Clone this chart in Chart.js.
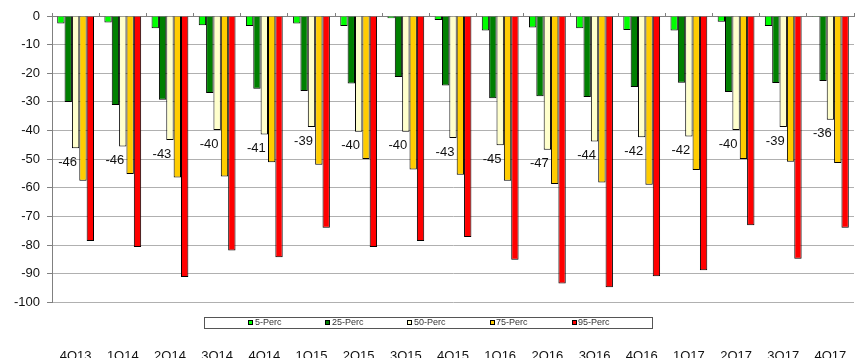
<!DOCTYPE html>
<html><head><meta charset="utf-8">
<script src="https://cdn.jsdelivr.net/npm/chart.js@4"></script>
<style>
html,body{margin:0;padding:0;background:#fff;overflow:hidden;}
#wrap{position:relative;width:858px;height:368px;}
</style></head><body>
<div id="wrap"><canvas id="c"></canvas></div>
<script>
const categories = ['4Q13','1Q14','2Q14','3Q14','4Q14','1Q15','2Q15','3Q15','4Q15','1Q16','2Q16','3Q16','4Q16','1Q17','2Q17','3Q17','4Q17'];
const seriesNames = ['5-Perc','25-Perc','50-Perc','75-Perc','95-Perc'];
const perc5  = [-2.6,-2.3,-4.3,-3.2,-3.5,-2.6,-3.5,-0.8,-1.4,-5.1,-4.0,-4.3,-4.9,-5.1,-2.0,-3.5,-0.3];
const perc25 = [-30.0,-31.1,-29.2,-26.9,-25.4,-26.2,-23.6,-21.3,-24.3,-28.7,-28.0,-28.3,-24.8,-23.3,-26.5,-23.4,-22.7];
const perc50 = [-46.2,-45.6,-43.3,-39.8,-41.4,-38.8,-40.4,-40.4,-42.6,-45.1,-46.7,-43.8,-42.3,-42.1,-39.8,-38.8,-36.2];
const perc75 = [-57.5,-55.2,-56.4,-56.0,-51.1,-51.9,-49.9,-53.6,-55.4,-57.5,-58.7,-58.1,-58.9,-53.8,-49.9,-50.9,-51.3];
const perc95 = [-78.6,-80.7,-91.1,-81.9,-84.2,-73.9,-80.7,-78.6,-77.2,-85.1,-93.4,-94.7,-90.9,-88.8,-73.1,-84.8,-73.9];
const seriesColors = ['#00ff00','#008000','#ffffcc','#ffcc00','#ff0000'];
const yMin = -100, yMax = 0, yStep = 10;
const labelledSeries = 2;

const FONT = '"Liberation Sans", Arial, sans-serif';
const allSeries = [perc5, perc25, perc50, perc75, perc95];

const bgPlugin = {
  id: 'bg',
  beforeDraw(chart) {
    const ctx = chart.ctx;
    ctx.save(); ctx.fillStyle = '#fff'; ctx.fillRect(0, 0, chart.width, chart.height); ctx.restore();
  }
};

const labelPlugin = {
  id: 'p50labels',
  afterDatasetsDraw(chart) {
    const meta = chart.getDatasetMeta(labelledSeries);
    const ctx = chart.ctx;
    ctx.save();
    ctx.font = '13px ' + FONT;
    ctx.fillStyle = '#111';
    ctx.textAlign = 'center';
    ctx.textBaseline = 'middle';
    meta.data.forEach((bar, i) => {
      const v = chart.data.datasets[labelledSeries].data[i];
      ctx.fillText(String(Math.round(v)), bar.x - 8, bar.y + 14);
    });
    ctx.restore();
  }
};

const legendPlugin = {
  id: 'boxLegend',
  afterDraw(chart) {
    const ctx = chart.ctx;
    const ds = chart.data.datasets;
    ctx.save();
    ctx.font = '9px ' + FONT;
    const box = 5, gapText = 1.5, gapItem = 44;
    const widths = ds.map(d => box + gapText + ctx.measureText(d.label).width);
    const total = widths.reduce((a, b) => a + b, 0) + gapItem * (ds.length - 1);
    let x = chart.width / 2 - total / 2;
    const yc = chart.chartArea.bottom + 20;
    ctx.strokeStyle = '#555';
    ctx.lineWidth = 1;
    ctx.strokeRect(Math.round(x - 44.5) + 0.5, Math.round(yc - 5.5) + 0.5, Math.round(total + 87), 11);
    ctx.textBaseline = 'middle';
    ctx.textAlign = 'left';
    ds.forEach((d, i) => {
      ctx.fillStyle = d.backgroundColor;
      ctx.fillRect(Math.round(x) + 0.5, Math.round(yc - 2.5) + 0.5, box - 1, box - 1);
      ctx.strokeStyle = '#000';
      ctx.strokeRect(Math.round(x) + 0.5, Math.round(yc - 2.5) + 0.5, box - 1, box - 1);
      ctx.fillStyle = '#333';
      ctx.fillText(d.label, x + box + gapText, yc + 0.5);
      x += widths[i] + gapItem;
    });
    ctx.restore();
  }
};

new Chart(document.getElementById('c'), {
  type: 'bar',
  data: {
    labels: categories,
    datasets: seriesNames.map((name, i) => ({
      label: name,
      data: allSeries[i],
      backgroundColor: seriesColors[i],
      borderColor: '#000',
      borderWidth: 1,
      xAxisID: 'x',
      yAxisID: 'y'
    }))
  },
  options: {
    responsive: true,
    maintainAspectRatio: false,
    animation: false,
    devicePixelRatio: 1,
    layout: { padding: { left: 7, right: 4, top: 13, bottom: 2 } },
    plugins: { legend: { display: false }, tooltip: { enabled: false } },
    datasets: { bar: { categoryPercentage: 0.78, barPercentage: 1.0 } },
    scales: {
      x: {
        type: 'category',
        position: 'bottom',
        offset: true,
        grid: { display: false, drawTicks: true, tickLength: 44 },
        border: { display: false },
        ticks: { padding: 2, maxRotation: 0, autoSkip: false, color: '#111', font: { size: 13, family: FONT } }
      },
      x2: {
        type: 'category',
        position: 'top',
        labels: categories,
        offset: true,
        grid: { display: true, offset: true, drawOnChartArea: false, drawTicks: true, tickLength: 3, color: '#808080' },
        border: { display: true, color: '#808080', width: 1 },
        ticks: { display: false }
      },
      y: {
        min: yMin, max: yMax,
        ticks: { stepSize: yStep, padding: 7, color: '#111', font: { size: 13, family: FONT } },
        grid: { color: (c) => c.tick && c.tick.value === 0 ? '#808080' : '#b0b0b0', tickLength: 5, tickColor: '#808080' },
        border: { display: true, color: '#808080' }
      }
    }
  },
  plugins: [bgPlugin, labelPlugin, legendPlugin]
});
</script>
</body></html>
